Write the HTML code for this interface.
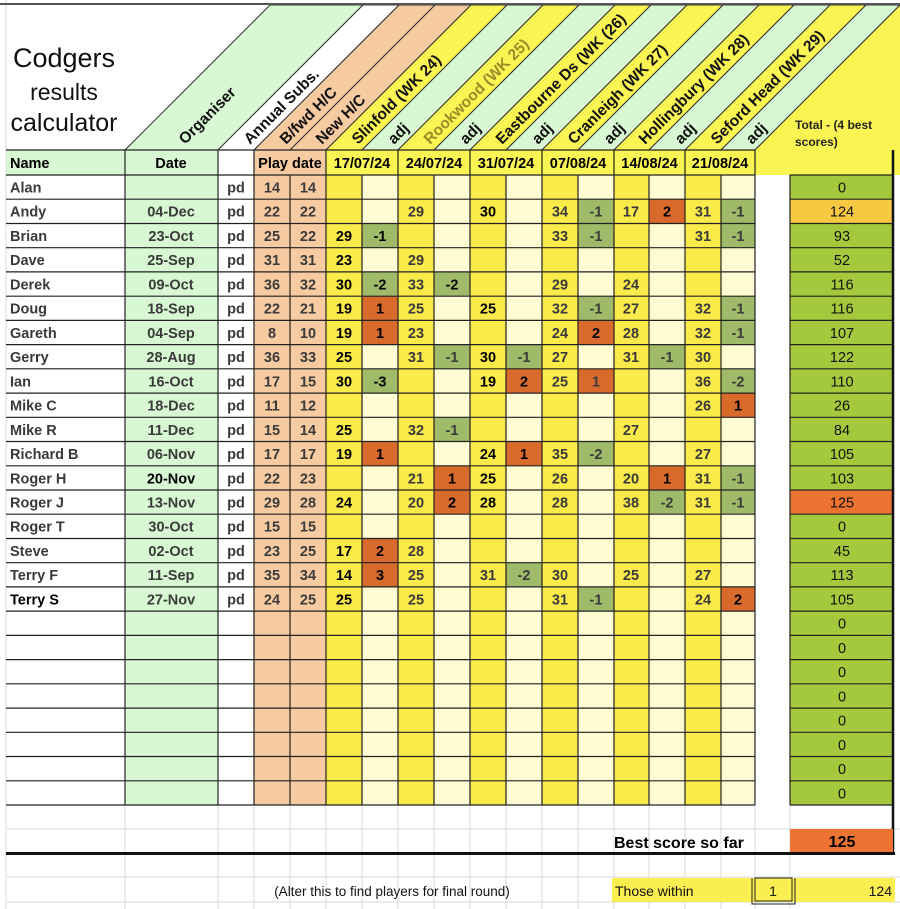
<!DOCTYPE html>
<html><head><meta charset="utf-8"><style>
html,body{margin:0;padding:0;background:#fff;}
svg{display:block;font-family:"Liberation Sans",Arial,sans-serif;}
.b{font-weight:bold;font-size:14.5px;fill:#3a3a3a;}
.k{fill:#000;}
.c{text-anchor:middle;}
.h{font-weight:bold;font-size:15.5px;fill:#111;}
.b .t{font-size:14.5px;font-weight:normal;fill:#111;text-anchor:middle;}
</style></head><body>
<svg width="900" height="909" viewBox="0 0 900 909" xmlns="http://www.w3.org/2000/svg">
<g stroke="#d8d8d8" stroke-width="1">
<path d="M6 829H900M6 877H900M6 902H900M6 805V909M125 805V909M218 805V909M254 805V909M290 805V909M326 805V909M362 805V909M398 805V909M434 805V909M470 805V909M506 805V909M542 805V909M578 805V909M614 805V909M649 805V909M685 805V909M721 805V909M755 805V909M790 805V909M6 0V909"/>
</g>
<g stroke="#333" stroke-width="1">
<polygon points="125,150 218,150 363,5 270,5" fill="#d7f8d2"/>
<polygon points="218,150 254,150 399,5 363,5" fill="#fff"/>
<polygon points="254,150 290,150 435,5 399,5" fill="#f6cba2"/>
<polygon points="290,150 326,150 471,5 435,5" fill="#f6cba2"/>
<polygon points="326,150 362,150 507,5 471,5" fill="#fbf553"/>
<polygon points="362,150 398,150 543,5 507,5" fill="#d7f8d2"/>
<polygon points="398,150 434,150 579,5 543,5" fill="#fbf553"/>
<polygon points="434,150 470,150 615,5 579,5" fill="#d7f8d2"/>
<polygon points="470,150 506,150 651,5 615,5" fill="#fbf553"/>
<polygon points="506,150 542,150 687,5 651,5" fill="#d7f8d2"/>
<polygon points="542,150 578,150 723,5 687,5" fill="#fbf553"/>
<polygon points="578,150 614,150 759,5 723,5" fill="#d7f8d2"/>
<polygon points="614,150 649,150 794,5 759,5" fill="#fbf553"/>
<polygon points="649,150 685,150 830,5 794,5" fill="#d7f8d2"/>
<polygon points="685,150 721,150 866,5 830,5" fill="#fbf553"/>
<polygon points="721,150 755,150 900,5 866,5" fill="#d7f8d2"/>
</g>
<polygon points="755,175 755,150 900,5 900,175" fill="#fbf553"/>
<line x1="755" y1="150" x2="900" y2="5" stroke="#333"/>
<line x1="0" y1="4" x2="900" y2="4" stroke="#555" stroke-width="2"/>
<g fill="#111" text-anchor="middle">
<text x="64" y="67" font-size="27">Codgers</text>
<text x="64" y="100" font-size="23">results</text>
<text x="64" y="131" font-size="25">calculator</text>
</g>
<g class="h">
<text transform="translate(185,145) rotate(-45)">Organiser</text>
<text transform="translate(250,145) rotate(-45)">Annual Subs.</text>
<text transform="translate(286,145) rotate(-45)">B/fwd H/C</text>
<text transform="translate(322,145) rotate(-45)">New H/C</text>
<text transform="translate(358,145) rotate(-45)">Slinfold (WK 24)</text>
<text transform="translate(394,145) rotate(-45)">adj</text>
<text transform="translate(430,145) rotate(-45)" style="fill:#9a8c2a">Rookwood (WK 25)</text>
<text transform="translate(466,145) rotate(-45)">adj</text>
<text transform="translate(502,145) rotate(-45)">Eastbourne Ds (WK (26)</text>
<text transform="translate(538,145) rotate(-45)">adj</text>
<text transform="translate(574,145) rotate(-45)">Cranleigh (WK 27)</text>
<text transform="translate(610,145) rotate(-45)">adj</text>
<text transform="translate(645,145) rotate(-45)">Hollingbury (WK 28)</text>
<text transform="translate(681,145) rotate(-45)">adj</text>
<text transform="translate(717,145) rotate(-45)">Seford Head (WK 29)</text>
<text transform="translate(752,145) rotate(-45)">adj</text>
</g>
<text x="795" y="129" font-size="12" font-weight="bold" fill="#222">Total  - (4 best</text>
<text x="795" y="146" font-size="12" font-weight="bold" fill="#222">scores)</text>
<rect x="6" y="150" width="119" height="25" fill="#d7f8d2"/>
<rect x="125" y="150" width="93" height="25" fill="#d7f8d2"/>
<rect x="254" y="150" width="72" height="25" fill="#f6cba2"/>
<rect x="326" y="150" width="429" height="25" fill="#fbf553"/>
<rect x="125" y="175" width="93" height="630" fill="#d7f8d2"/>
<rect x="254" y="175" width="72" height="630" fill="#f6cba2"/>
<g fill="#faea4a">
<rect x="326" y="175" width="36" height="630"/><rect x="398" y="175" width="36" height="630"/><rect x="470" y="175" width="36" height="630"/><rect x="542" y="175" width="36" height="630"/><rect x="614" y="175" width="35" height="630"/><rect x="685" y="175" width="36" height="630"/>
</g>
<g fill="#fffcd3">
<rect x="362" y="175" width="36" height="630"/><rect x="434" y="175" width="36" height="630"/><rect x="506" y="175" width="36" height="630"/><rect x="578" y="175" width="36" height="630"/><rect x="649" y="175" width="36" height="630"/><rect x="721" y="175" width="34" height="630"/>
</g>
<rect x="790" y="175" width="103" height="630" fill="#a4c93c"/>
<rect x="790" y="199.2" width="103" height="24.2" fill="#f7c842"/>
<rect x="790" y="490" width="103" height="24.2" fill="#ec7331"/>
<g fill="#d86a2c">
<rect x="649" y="199.2" width="36" height="24.2"/>
<rect x="362" y="296.2" width="36" height="24.2"/>
<rect x="362" y="320.4" width="36" height="24.2"/><rect x="578" y="320.4" width="36" height="24.2"/>
<rect x="506" y="368.8" width="36" height="24.2"/><rect x="578" y="368.8" width="36" height="24.2"/>
<rect x="721" y="393.1" width="34" height="24.2"/>
<rect x="362" y="441.5" width="36" height="24.2"/><rect x="506" y="441.5" width="36" height="24.2"/>
<rect x="434" y="465.8" width="36" height="24.2"/><rect x="649" y="465.8" width="36" height="24.2"/>
<rect x="434" y="490" width="36" height="24.2"/>
<rect x="362" y="538.5" width="36" height="24.2"/>
<rect x="362" y="562.7" width="36" height="24.2"/>
<rect x="721" y="586.9" width="34" height="24.2"/>
</g>
<g fill="#9fba68">
<rect x="578" y="199.2" width="36" height="24.2"/><rect x="721" y="199.2" width="34" height="24.2"/>
<rect x="362" y="223.5" width="36" height="24.2"/><rect x="578" y="223.5" width="36" height="24.2"/><rect x="721" y="223.5" width="34" height="24.2"/>
<rect x="362" y="271.9" width="36" height="24.2"/><rect x="434" y="271.9" width="36" height="24.2"/>
<rect x="578" y="296.2" width="36" height="24.2"/><rect x="721" y="296.2" width="34" height="24.2"/>
<rect x="721" y="320.4" width="34" height="24.2"/>
<rect x="434" y="344.6" width="36" height="24.2"/><rect x="506" y="344.6" width="36" height="24.2"/><rect x="649" y="344.6" width="36" height="24.2"/>
<rect x="362" y="368.8" width="36" height="24.2"/><rect x="721" y="368.8" width="34" height="24.2"/>
<rect x="434" y="417.3" width="36" height="24.2"/>
<rect x="578" y="441.5" width="36" height="24.2"/>
<rect x="721" y="465.8" width="34" height="24.2"/>
<rect x="649" y="490" width="36" height="24.2"/><rect x="721" y="490" width="34" height="24.2"/>
<rect x="506" y="562.7" width="36" height="24.2"/>
<rect x="578" y="586.9" width="36" height="24.2"/>
</g>
<g stroke="#222" stroke-width="1.2" fill="none">
<path d="M6 150H755M6 175H755M790 175H893M6 199.2H755M790 199.2H893M6 223.5H755M790 223.5H893M6 247.7H755M790 247.7H893M6 271.9H755M790 271.9H893M6 296.2H755M790 296.2H893M6 320.4H755M790 320.4H893M6 344.6H755M790 344.6H893M6 368.8H755M790 368.8H893M6 393.1H755M790 393.1H893M6 417.3H755M790 417.3H893M6 441.5H755M790 441.5H893M6 465.8H755M790 465.8H893M6 490H755M790 490H893M6 514.2H755M790 514.2H893M6 538.5H755M790 538.5H893M6 562.7H755M790 562.7H893M6 586.9H755M790 586.9H893M6 611.1H755M790 611.1H893M6 635.4H755M790 635.4H893M6 659.6H755M790 659.6H893M6 683.8H755M790 683.8H893M6 708.1H755M790 708.1H893M6 732.3H755M790 732.3H893M6 756.5H755M790 756.5H893M6 780.8H755M790 780.8H893M6 805H755M790 805H893"/>
<path d="M125 150V805M218 150V805M254 150V805M326 150V805M398 150V805M470 150V805M542 150V805M614 150V805M685 150V805M755 150V805M290 175V805M362 175V805M434 175V805M506 175V805M578 175V805M649 175V805M721 175V805M790 175V805"/>
</g>
<line x1="893" y1="150" x2="893" y2="854" stroke="#111" stroke-width="2.5"/>
<g class="b k">
<text x="10" y="168">Name</text>
<text x="171" y="168" class="c">Date</text>
<text x="290" y="168" class="c">Play date</text>
<text x="362" y="168" class="c">17/07/24</text>
<text x="434" y="168" class="c">24/07/24</text>
<text x="506" y="168" class="c">31/07/24</text>
<text x="578" y="168" class="c">07/08/24</text>
<text x="649.5" y="168" class="c">14/08/24</text>
<text x="720" y="168" class="c">21/08/24</text>
</g>
<g class="b c">
<g transform="translate(0,175)"><text x="10" y="17.5" text-anchor="start">Alan</text><text x="236" y="17.5">pd</text><text x="272" y="17.5">14</text><text x="308" y="17.5">14</text><text class="t" x="842" y="17.5">0</text></g>
<g transform="translate(0,199.2)"><text x="10" y="17.5" text-anchor="start">Andy</text><text x="171" y="17.5">04-Dec</text><text x="236" y="17.5">pd</text><text x="272" y="17.5">22</text><text x="308" y="17.5">22</text><text x="416" y="17.5">29</text><text class="k" x="488" y="17.5">30</text><text x="560" y="17.5">34</text><text x="596" y="17.5">-1</text><text x="631" y="17.5">17</text><text class="k" x="667" y="17.5">2</text><text x="703" y="17.5">31</text><text x="738" y="17.5">-1</text><text class="t" x="842" y="17.5">124</text></g>
<g transform="translate(0,223.5)"><text x="10" y="17.5" text-anchor="start">Brian</text><text x="171" y="17.5">23-Oct</text><text x="236" y="17.5">pd</text><text x="272" y="17.5">25</text><text x="308" y="17.5">22</text><text class="k" x="344" y="17.5">29</text><text class="k" x="380" y="17.5">-1</text><text x="560" y="17.5">33</text><text x="596" y="17.5">-1</text><text x="703" y="17.5">31</text><text x="738" y="17.5">-1</text><text class="t" x="842" y="17.5">93</text></g>
<g transform="translate(0,247.7)"><text x="10" y="17.5" text-anchor="start">Dave</text><text x="171" y="17.5">25-Sep</text><text x="236" y="17.5">pd</text><text x="272" y="17.5">31</text><text x="308" y="17.5">31</text><text class="k" x="344" y="17.5">23</text><text x="416" y="17.5">29</text><text class="t" x="842" y="17.5">52</text></g>
<g transform="translate(0,271.9)"><text x="10" y="17.5" text-anchor="start">Derek</text><text x="171" y="17.5">09-Oct</text><text x="236" y="17.5">pd</text><text x="272" y="17.5">36</text><text x="308" y="17.5">32</text><text class="k" x="344" y="17.5">30</text><text class="k" x="380" y="17.5">-2</text><text x="416" y="17.5">33</text><text class="k" x="452" y="17.5">-2</text><text x="560" y="17.5">29</text><text x="631" y="17.5">24</text><text class="t" x="842" y="17.5">116</text></g>
<g transform="translate(0,296.2)"><text x="10" y="17.5" text-anchor="start">Doug</text><text x="171" y="17.5">18-Sep</text><text x="236" y="17.5">pd</text><text x="272" y="17.5">22</text><text x="308" y="17.5">21</text><text class="k" x="344" y="17.5">19</text><text class="k" x="380" y="17.5">1</text><text x="416" y="17.5">25</text><text class="k" x="488" y="17.5">25</text><text x="560" y="17.5">32</text><text x="596" y="17.5">-1</text><text x="631" y="17.5">27</text><text x="703" y="17.5">32</text><text x="738" y="17.5">-1</text><text class="t" x="842" y="17.5">116</text></g>
<g transform="translate(0,320.4)"><text x="10" y="17.5" text-anchor="start">Gareth</text><text x="171" y="17.5">04-Sep</text><text x="236" y="17.5">pd</text><text x="272" y="17.5">8</text><text x="308" y="17.5">10</text><text class="k" x="344" y="17.5">19</text><text class="k" x="380" y="17.5">1</text><text x="416" y="17.5">23</text><text x="560" y="17.5">24</text><text class="k" x="596" y="17.5">2</text><text x="631" y="17.5">28</text><text x="703" y="17.5">32</text><text x="738" y="17.5">-1</text><text class="t" x="842" y="17.5">107</text></g>
<g transform="translate(0,344.6)"><text x="10" y="17.5" text-anchor="start">Gerry</text><text x="171" y="17.5">28-Aug</text><text x="236" y="17.5">pd</text><text x="272" y="17.5">36</text><text x="308" y="17.5">33</text><text class="k" x="344" y="17.5">25</text><text x="416" y="17.5">31</text><text x="452" y="17.5">-1</text><text class="k" x="488" y="17.5">30</text><text x="524" y="17.5">-1</text><text x="560" y="17.5">27</text><text x="631" y="17.5">31</text><text x="667" y="17.5">-1</text><text x="703" y="17.5">30</text><text class="t" x="842" y="17.5">122</text></g>
<g transform="translate(0,368.8)"><text x="10" y="17.5" text-anchor="start">Ian</text><text x="171" y="17.5">16-Oct</text><text x="236" y="17.5">pd</text><text x="272" y="17.5">17</text><text x="308" y="17.5">15</text><text class="k" x="344" y="17.5">30</text><text class="k" x="380" y="17.5">-3</text><text class="k" x="488" y="17.5">19</text><text class="k" x="524" y="17.5">2</text><text x="560" y="17.5">25</text><text x="596" y="17.5">1</text><text x="703" y="17.5">36</text><text x="738" y="17.5">-2</text><text class="t" x="842" y="17.5">110</text></g>
<g transform="translate(0,393.1)"><text x="10" y="17.5" text-anchor="start">Mike C</text><text x="171" y="17.5">18-Dec</text><text x="236" y="17.5">pd</text><text x="272" y="17.5">11</text><text x="308" y="17.5">12</text><text x="703" y="17.5">26</text><text class="k" x="738" y="17.5">1</text><text class="t" x="842" y="17.5">26</text></g>
<g transform="translate(0,417.3)"><text x="10" y="17.5" text-anchor="start">Mike R</text><text x="171" y="17.5">11-Dec</text><text x="236" y="17.5">pd</text><text x="272" y="17.5">15</text><text x="308" y="17.5">14</text><text class="k" x="344" y="17.5">25</text><text x="416" y="17.5">32</text><text x="452" y="17.5">-1</text><text x="631" y="17.5">27</text><text class="t" x="842" y="17.5">84</text></g>
<g transform="translate(0,441.5)"><text x="10" y="17.5" text-anchor="start">Richard B</text><text x="171" y="17.5">06-Nov</text><text x="236" y="17.5">pd</text><text x="272" y="17.5">17</text><text x="308" y="17.5">17</text><text class="k" x="344" y="17.5">19</text><text class="k" x="380" y="17.5">1</text><text class="k" x="488" y="17.5">24</text><text class="k" x="524" y="17.5">1</text><text x="560" y="17.5">35</text><text x="596" y="17.5">-2</text><text x="703" y="17.5">27</text><text class="t" x="842" y="17.5">105</text></g>
<g transform="translate(0,465.8)"><text x="10" y="17.5" text-anchor="start">Roger H</text><text class="k" x="171" y="17.5">20-Nov</text><text x="236" y="17.5">pd</text><text x="272" y="17.5">22</text><text x="308" y="17.5">23</text><text x="416" y="17.5">21</text><text class="k" x="452" y="17.5">1</text><text class="k" x="488" y="17.5">25</text><text x="560" y="17.5">26</text><text x="631" y="17.5">20</text><text class="k" x="667" y="17.5">1</text><text x="703" y="17.5">31</text><text x="738" y="17.5">-1</text><text class="t" x="842" y="17.5">103</text></g>
<g transform="translate(0,490)"><text x="10" y="17.5" text-anchor="start">Roger J</text><text x="171" y="17.5">13-Nov</text><text x="236" y="17.5">pd</text><text x="272" y="17.5">29</text><text x="308" y="17.5">28</text><text class="k" x="344" y="17.5">24</text><text x="416" y="17.5">20</text><text class="k" x="452" y="17.5">2</text><text class="k" x="488" y="17.5">28</text><text x="560" y="17.5">28</text><text x="631" y="17.5">38</text><text x="667" y="17.5">-2</text><text x="703" y="17.5">31</text><text x="738" y="17.5">-1</text><text class="t" x="842" y="17.5">125</text></g>
<g transform="translate(0,514.2)"><text x="10" y="17.5" text-anchor="start">Roger T</text><text x="171" y="17.5">30-Oct</text><text x="236" y="17.5">pd</text><text x="272" y="17.5">15</text><text x="308" y="17.5">15</text><text class="t" x="842" y="17.5">0</text></g>
<g transform="translate(0,538.5)"><text x="10" y="17.5" text-anchor="start">Steve</text><text x="171" y="17.5">02-Oct</text><text x="236" y="17.5">pd</text><text x="272" y="17.5">23</text><text x="308" y="17.5">25</text><text class="k" x="344" y="17.5">17</text><text class="k" x="380" y="17.5">2</text><text x="416" y="17.5">28</text><text class="t" x="842" y="17.5">45</text></g>
<g transform="translate(0,562.7)"><text x="10" y="17.5" text-anchor="start">Terry F</text><text x="171" y="17.5">11-Sep</text><text x="236" y="17.5">pd</text><text x="272" y="17.5">35</text><text x="308" y="17.5">34</text><text class="k" x="344" y="17.5">14</text><text class="k" x="380" y="17.5">3</text><text x="416" y="17.5">25</text><text x="488" y="17.5">31</text><text x="524" y="17.5">-2</text><text x="560" y="17.5">30</text><text x="631" y="17.5">25</text><text x="703" y="17.5">27</text><text class="t" x="842" y="17.5">113</text></g>
<g transform="translate(0,586.9)"><text class="k" x="10" y="17.5" text-anchor="start">Terry S</text><text x="171" y="17.5">27-Nov</text><text x="236" y="17.5">pd</text><text x="272" y="17.5">24</text><text x="308" y="17.5">25</text><text class="k" x="344" y="17.5">25</text><text x="416" y="17.5">25</text><text x="560" y="17.5">31</text><text x="596" y="17.5">-1</text><text x="703" y="17.5">24</text><text class="k" x="738" y="17.5">2</text><text class="t" x="842" y="17.5">105</text></g>
<text class="t" x="842" y="628.6">0</text><text class="t" x="842" y="652.9">0</text><text class="t" x="842" y="677.1">0</text><text class="t" x="842" y="701.3">0</text><text class="t" x="842" y="725.6">0</text><text class="t" x="842" y="749.8">0</text><text class="t" x="842" y="774">0</text><text class="t" x="842" y="798.3">0</text>
</g>
<rect x="790" y="829" width="103" height="24" fill="#ec7331"/>
<text x="614" y="848" font-size="16" font-weight="bold" fill="#000">Best score so far</text>
<text x="842" y="847" font-size="16" font-weight="bold" fill="#000" text-anchor="middle">125</text>
<line x1="6" y1="853.5" x2="895" y2="853.5" stroke="#111" stroke-width="3"/>
<rect x="612" y="878" width="283" height="24" fill="#fbee50"/>
<text x="392" y="896" font-size="13.5" fill="#111" text-anchor="middle">(Alter this to find players for final round)</text>
<text x="615" y="896" font-size="14" fill="#111">Those within</text>
<rect x="755" y="878" width="37" height="23" fill="none" stroke="#222" stroke-width="1"/>
<path d="M752 878V904H795V878" fill="none" stroke="#222" stroke-width="1"/>
<text x="773" y="896" font-size="14" fill="#111" text-anchor="middle">1</text>
<text x="892" y="896" font-size="14" fill="#111" text-anchor="end">124</text>
</svg>
</body></html>
